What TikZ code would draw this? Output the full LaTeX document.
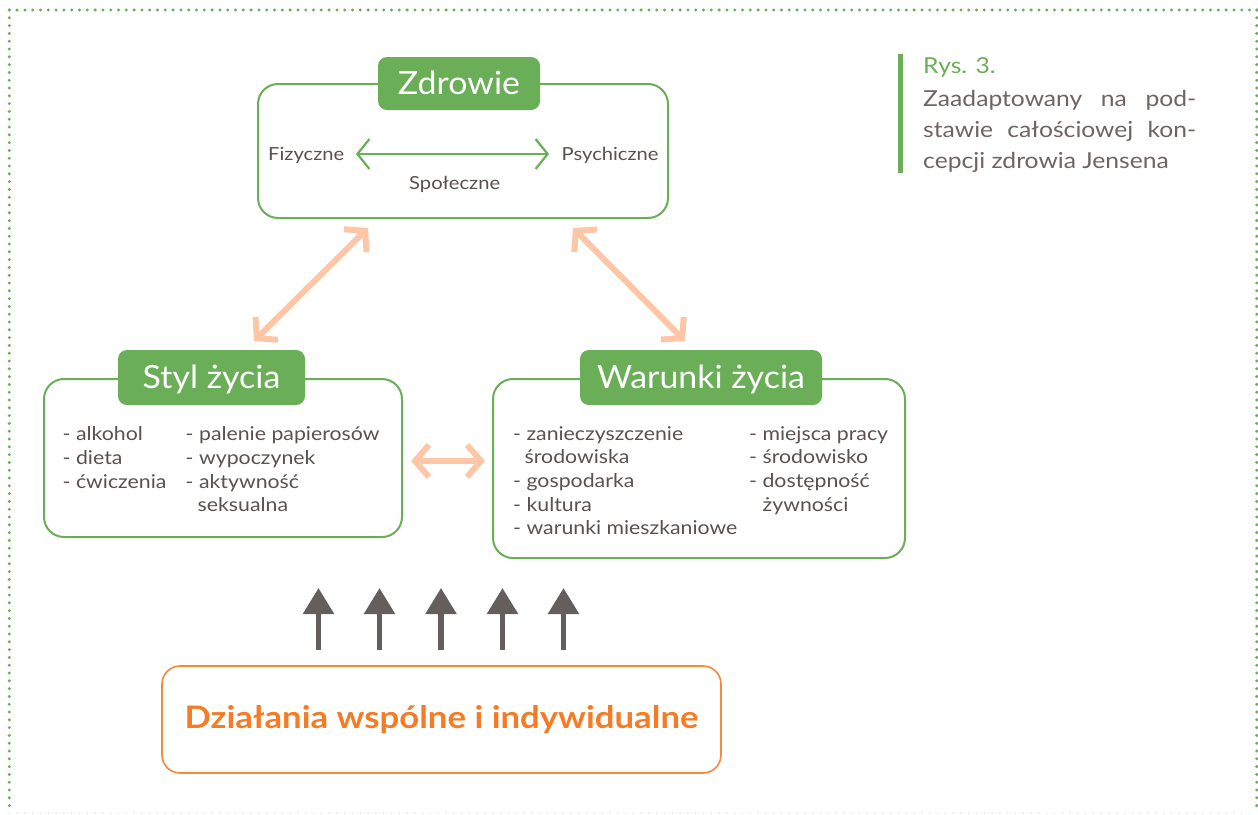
\documentclass[tikz,border=0pt]{standalone}
\usepackage{fontspec}
\setmainfont{Lato}[FakeStretch=1.12]
\newfontfamily\titlefont{Lato}[FakeStretch=1.06]
\usetikzlibrary{arrows.meta}
\definecolor{grn}{HTML}{6BAE58}
\definecolor{txt}{HTML}{59524F}
\definecolor{captxt}{HTML}{6E6461}
\definecolor{peach}{HTML}{FDC6A6}
\definecolor{org}{HTML}{F47C26}
\definecolor{orgline}{HTML}{F5883A}
\definecolor{darr}{HTML}{645F5D}
\definecolor{dotgray}{HTML}{CFCFCF}
\tikzset{
  bigbox/.style={draw=grn, line width=2pt, rounded corners=20pt, fill=white},
  titlebox/.style={fill=grn, rounded corners=9pt, text=white, font=\titlefont\fontsize{32}{36}\selectfont, text height=22pt, text depth=0pt, inner sep=0pt},
  item/.style={anchor=base west, inner sep=0pt, text=txt, font=\fontsize{19}{22}\selectfont},
  toplab/.style={anchor=base west, inner sep=0pt, text=txt, font=\fontsize{18}{20}\selectfont},
  peacharrow/.style={draw=peach, line width=6pt, {Straight Barb[length=14pt,width=32pt]}-{Straight Barb[length=14pt,width=32pt]}},
  grnarrow/.style={draw=grn, line width=2.2pt, {Straight Barb[length=12pt,width=30pt]}-{Straight Barb[length=12pt,width=30pt]}},
  uparrow/.style={draw=darr, line width=5.5pt, -{Triangle[length=26pt,width=30pt]}},
  greendots/.style={draw=grn, line width=3.3pt, line cap=round, dash pattern=on 0pt off 7.8pt},
  graydots/.style={draw=dotgray, line width=1.4pt, line cap=round, dash pattern=on 0pt off 7.8pt},
  captext/.style={anchor=base west, inner sep=0pt, text=captxt, font=\fontsize{22}{30}\selectfont},
}
\begin{document}
\begin{tikzpicture}[x=1pt,y=-1pt]
\useasboundingbox (0,0) rectangle (1258,814);
% frame
\coordinate (f1) at (9.3,10);
\coordinate (f2) at (1258,10);
\coordinate (f3) at (9.3,813);
\coordinate (f4) at (1256.7,10);
\coordinate (f5) at (1256.7,813);
\coordinate (f6) at (1256,813);
\draw[greendots] (f1) -- (f2);
\draw[greendots] (f1) -- (f3);
\draw[greendots] (f4) -- (f5);
\draw[graydots] (f3) -- (f6);

% Zdrowie
\node[bigbox, minimum width=410pt, minimum height=134pt] (zb) at (463,151) {};
\node[titlebox, minimum width=162pt, minimum height=53pt] (zt) at (459,83.5) {Zdrowie};
\node[toplab] (fiz) at (268,160) {Fizyczne};
\node[toplab] (psy) at (561.5,160) {Psychiczne};
\node[toplab] (spo) at (409,189) {Społeczne};
\coordinate (ga) at (356,154);
\coordinate (gb) at (549,154);
\draw[grnarrow] (ga) -- (gb);

% Styl zycia
\node[bigbox, minimum width=358pt, minimum height=158pt] (sb) at (223,458) {};
\node[titlebox, minimum width=187pt, minimum height=55pt] (st) at (211.5,377.5) {Styl życia};
\node[item] (s1) at (62.5,440) {- alkohol};
\node[item] (s2) at (62.5,464) {- dieta};
\node[item] (s3) at (62.5,488) {- ćwiczenia};
\node[item] (s4) at (185.5,440) {- palenie papierosów};
\node[item] (s5) at (185.5,464) {- wypoczynek};
\node[item] (s6) at (185.5,488) {- aktywność};
\node[item] (s7) at (197.5,511.5) {seksualna};

% Warunki zycia
\node[bigbox, minimum width=412pt, minimum height=179pt] (wb) at (699,468.5) {};
\node[titlebox, minimum width=242pt, minimum height=55pt] (wt) at (701,377.5) {Warunki życia};
\node[item] (w1) at (513,440) {- zanieczyszczenie};
\node[item] (w2) at (524.5,463.5) {środowiska};
\node[item] (w3) at (513,487) {- gospodarka};
\node[item] (w4) at (513,511) {- kultura};
\node[item] (w5) at (513,534.5) {- warunki mieszkaniowe};
\node[item] (w6) at (749,440) {- miejsca pracy};
\node[item] (w7) at (749,463.5) {- środowisko};
\node[item] (w8) at (749,487) {- dostępność};
\node[item] (w9) at (762.5,511) {żywności};

% peach arrows
\coordinate (pa1) at (254,341);
\coordinate (pa2) at (368,228);
\coordinate (pb1) at (573,228);
\coordinate (pb2) at (685,341);
\coordinate (pc1) at (411,461);
\coordinate (pc2) at (485,461);
\draw[peacharrow] (pa1) -- (pa2);
\draw[peacharrow] (pb1) -- (pb2);
\draw[peacharrow] (pc1) -- (pc2);

% bottom box
\node[draw=orgline, line width=1.6pt, rounded corners=18pt, minimum width=559pt, minimum height=107pt, text=org, font=\bfseries\fontsize{31}{36}\selectfont] (db) at (441.5,719.5) {Działania wspólne i indywidualne};

% up arrows
\foreach \i/\x in {1/318.5,2/379.5,3/441,4/502.5,5/563.5}{
  \coordinate (ub\i) at (\x,650);
  \coordinate (ut\i) at (\x,588);
  \draw[uparrow] (ub\i) -- (ut\i);
}

% caption
\coordinate (bar1) at (900.5,54);
\coordinate (bar2) at (900.5,173);
\draw[grn, line width=4.5pt] (bar1) -- (bar2);
\node[captext, text=grn] (rys) at (923,73) {Rys. 3.};
\node[captext] (c1) at (923,106) {\makebox[273pt][s]{Zaadaptowany na pod-}};
\node[captext] (c2) at (923,137) {\makebox[273pt][s]{stawie całościowej kon-}};
\node[captext] (c3) at (923,168) {cepcji zdrowia Jensena};
\end{tikzpicture}
\end{document}
